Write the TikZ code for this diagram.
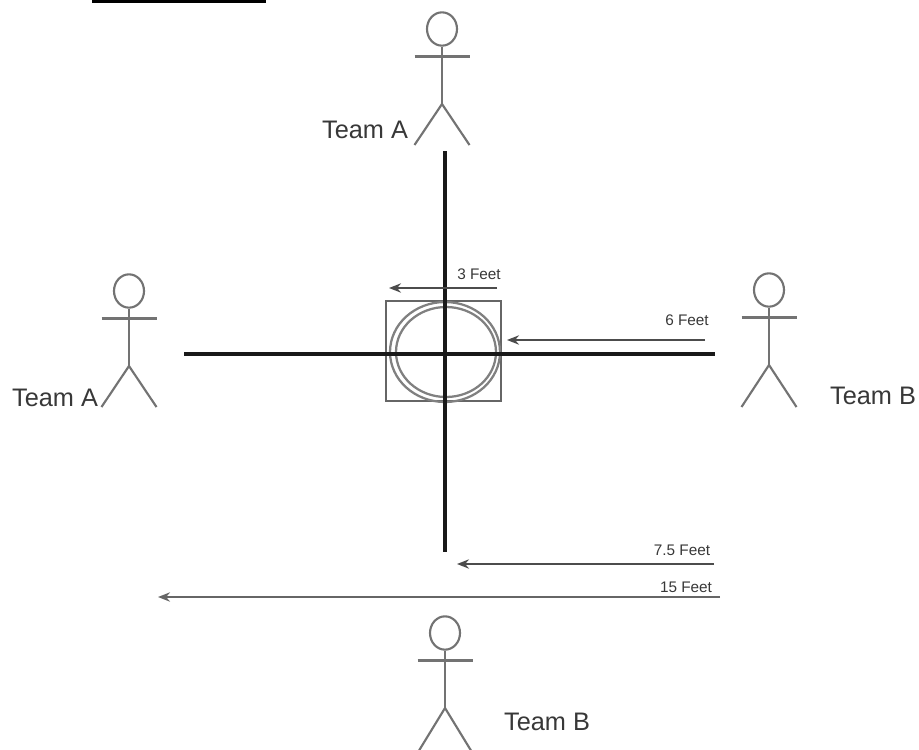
\documentclass[tikz,border=0pt]{standalone}
\usepackage{fontspec}
\setmainfont{Liberation Sans}
\usetikzlibrary{shapes.geometric,arrows.meta}
\definecolor{limb}{gray}{0.45}
\definecolor{inktext}{gray}{0.22}
\tikzset{
  px/.style={x=0.75pt,y=-0.75pt},
  limbline/.style={draw=limb,line width=1.6pt},
  headshape/.style={ellipse,draw=limb,line width=1.6pt,minimum width=22.5pt,minimum height=25pt,inner sep=0pt},
  crossbar/.style={draw=black!90,line width=3.2pt},
  team/.style={font=\fontsize{19pt}{21pt}\selectfont,text=inktext,inner sep=0pt},
  feet/.style={font=\fontsize{11.5pt}{13pt}\selectfont,text=inktext,inner sep=0pt},
  measure/.style={draw=black!70,line width=1.3pt,-{Stealth[length=9pt,width=7pt]}},
  longmeasure/.style={measure,draw=black!60,line width=2pt},
  boxline/.style={draw=black!60,line width=1.4pt},
  ringline/.style={draw=black!50,line width=1.7pt},
  pics/stick/.style={code={
    \node[headshape] (-head) at (0,0) {};
    \coordinate (-arml) at (-27.5,27.5);
    \coordinate (-armr) at (27.5,27.5);
    \coordinate (-hip) at (0,75);
    \coordinate (-footl) at (-27.5,#1);
    \coordinate (-footr) at (27.5,#1);
    \draw[limbline] (-arml) -- (-armr);
    \draw[limbline] (-head.south) -- (-hip);
    \draw[limbline] (-footl) -- (-hip) -- (-footr);
  }},
}
\begin{document}
\begin{tikzpicture}[px]
\useasboundingbox (0,0) rectangle (919,749);
\fill[black] (92,0) rectangle (266,3);

% targets
\node[boxline,draw,minimum width=86.25pt,minimum height=75pt,inner sep=0pt] (box) at (443.5,351) {};
\node[ellipse,ringline,draw,minimum width=82.5pt,minimum height=75pt,inner sep=0pt] (ringo) at (445,352) {};
\node[ellipse,ringline,draw,minimum width=75pt,minimum height=67.5pt,inner sep=0pt] (ringi) at (446,352) {};

% cross
\coordinate (ctop) at (445,151);
\coordinate (cbot) at (445,552);
\coordinate (cleft) at (184,354);
\coordinate (cright) at (715,354);
\draw[crossbar] (ctop) -- (cbot);
\draw[crossbar] (cleft) -- (cright);

% figures
\pic (fa) at (442,29) {stick=116};
\pic (fb) at (129,291) {stick=116};
\pic (fc) at (769,290) {stick=117};
\pic (fd) at (445,633) {stick=120};

\node[team] (ta1) at (365,130) {Team A};
\node[team] (ta2) at (55,398) {Team A};
\node[team] (tb1) at (873,396) {Team B};
\node[team] (tb2) at (547,722) {Team B};

% measures
\coordinate (m3a) at (497,288); \coordinate (m3b) at (389,288);
\coordinate (m6a) at (705,340); \coordinate (m6b) at (507,340);
\coordinate (m7a) at (714,564); \coordinate (m7b) at (457,564);
\coordinate (m15a) at (720,597); \coordinate (m15b) at (158,597);
\draw[measure] (m3a) -- (m3b);
\draw[measure] (m6a) -- (m6b);
\draw[measure] (m7a) -- (m7b);
\draw[longmeasure] (m15a) -- (m15b);
\node[feet] (l3) at (479,274) {3 Feet};
\node[feet] (l6) at (687,320) {6 Feet};
\node[feet] (l7) at (682,550) {7.5 Feet};
\node[feet] (l15) at (686,587) {15 Feet};
\end{tikzpicture}
\end{document}
